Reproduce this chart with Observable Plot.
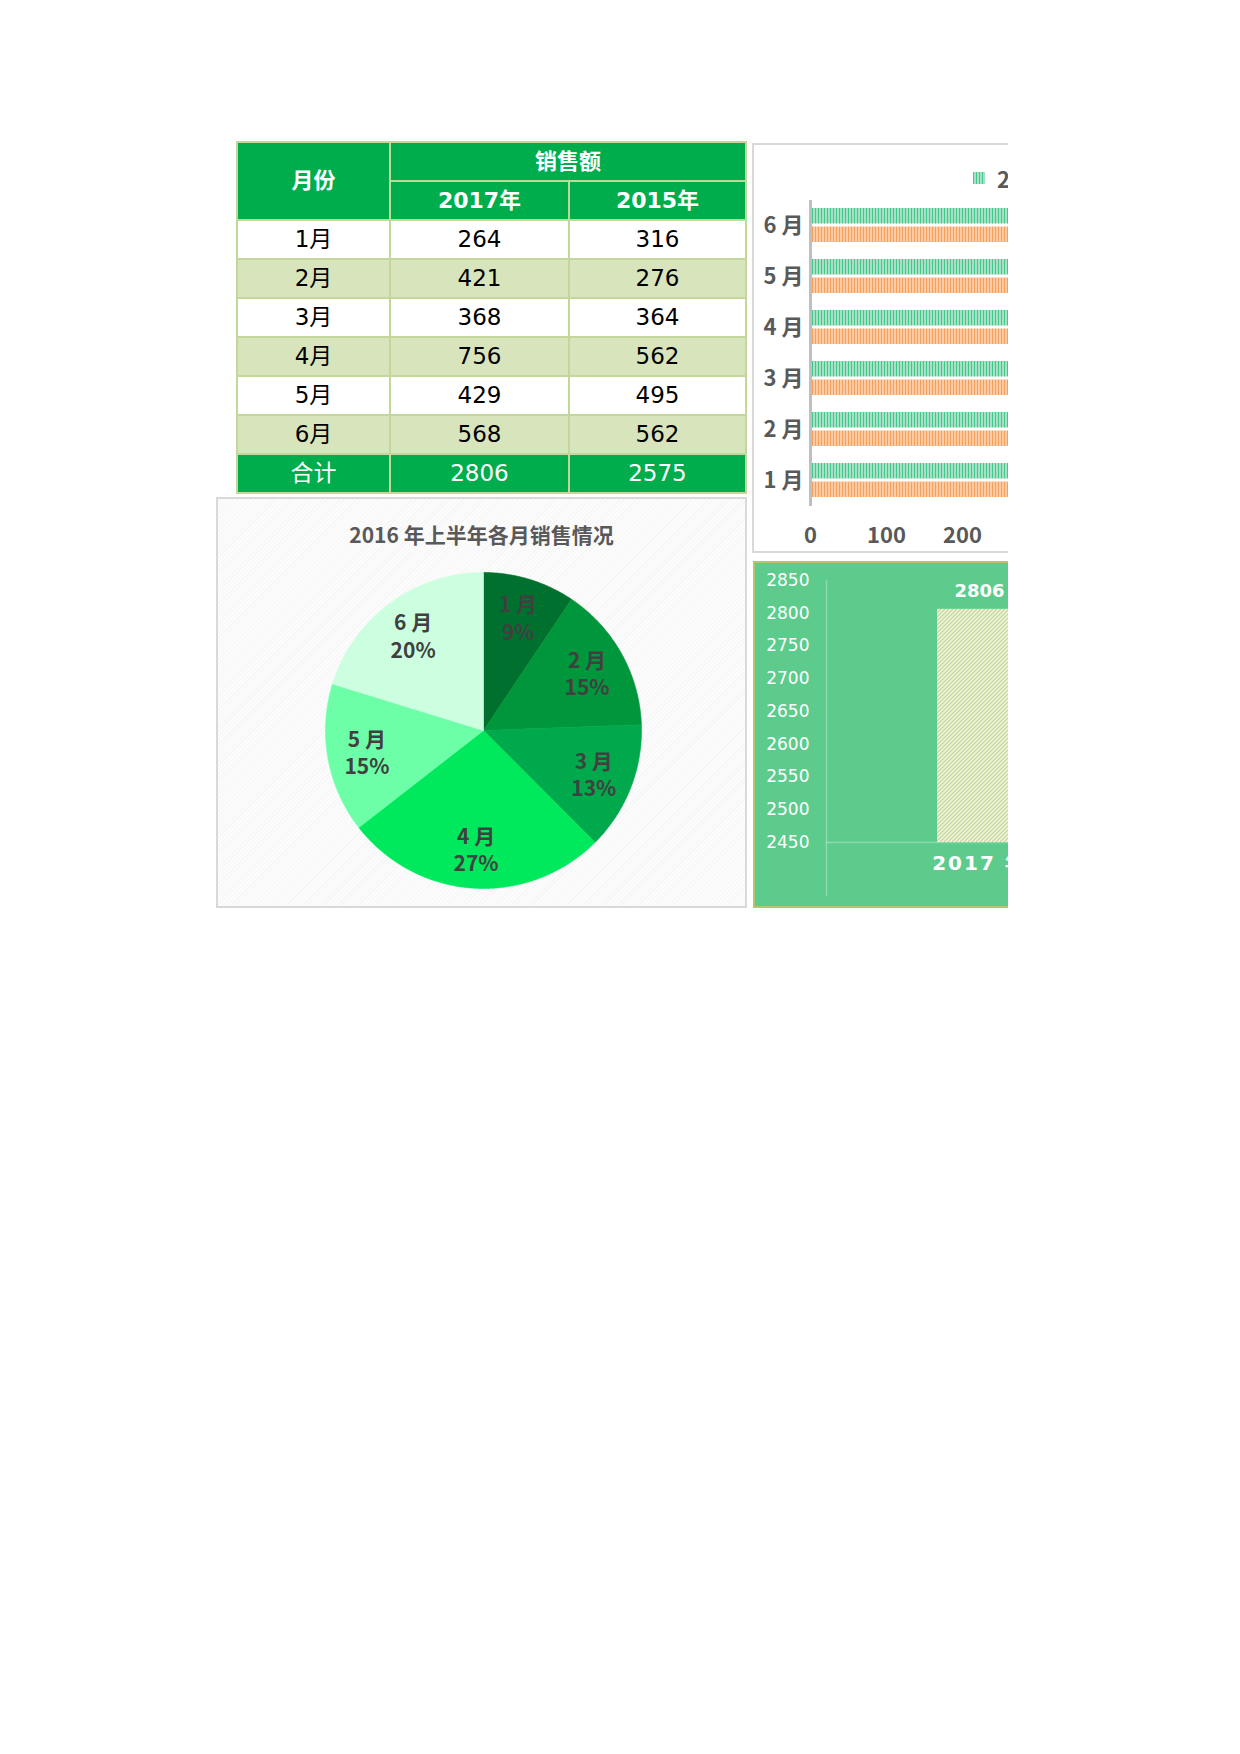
<!DOCTYPE html>
<html><head><meta charset="utf-8">
<script src="https://cdn.jsdelivr.net/npm/d3@7"></script>
<script src="https://cdn.jsdelivr.net/npm/@observablehq/plot@0.6"></script>
<style>
html,body{margin:0;padding:0;background:#fff;}
body{width:1240px;height:1754px;position:relative;overflow:hidden;}
#clip{position:absolute;left:0;top:0;width:1008px;height:1754px;overflow:hidden;}
.abs{position:absolute;}
#tbl{position:absolute;left:236px;top:141px;border-collapse:collapse;font-family:"DejaVu Sans","Noto Sans CJK SC",sans-serif;font-size:23px;color:#000;}
#tbl td,#tbl th{border:2px solid #c4d79b;height:37px;padding:0;text-align:center;vertical-align:middle;line-height:1;}
#tbl th{background:#00ad4d;color:#fff;font-weight:bold;font-size:22px;}
#tbl tr.alt td{background:#d8e4bc;}
#tbl tr.total td{background:#00ad4d;color:#fff;}
.box{position:absolute;box-sizing:border-box;}
#pieBox{left:216px;top:497px;width:531px;height:411px;border:2px solid #d9d9d9;
 background:repeating-linear-gradient(135deg,#fcfcfc 0 2px,#f6f6f6 2px 3px);}
#barBox{left:752px;top:143px;width:535px;height:410px;border:2px solid #d9d9d9;background:#fff;}
#colBox{left:753px;top:561px;width:535px;height:347px;border:2px solid #b3c66b;background:#5ccb8c;}
#pieTitle{position:absolute;left:216px;width:531px;top:520px;text-align:center;font-family:"Noto Sans CJK SC",sans-serif;font-weight:bold;font-size:21px;color:#595959;line-height:28px;}
#legend{position:absolute;left:973px;top:163px;height:30px;display:flex;align-items:center;font-family:"Noto Sans CJK SC",sans-serif;font-weight:bold;font-size:22px;color:#595959;white-space:nowrap;}
.sw{width:12px;height:12px;margin-right:12px;}
.svgwrap svg{max-width:none;display:block;}
</style>
</head><body>
<div id="clip">
  <div id="tblWrap"></div>
  <div class="box" id="pieBox"></div>
  <div id="pieTitle"></div>
  <div class="abs svgwrap" id="pieSvg" style="left:216px;top:497px;width:531px;height:411px;"></div>
  <div class="box" id="barBox"></div>
  <div class="abs svgwrap" id="barSvg" style="left:752px;top:143px;width:700px;height:410px;"></div>
  <div id="legend"></div>
  <div class="box" id="colBox"></div>
  <div class="abs svgwrap" id="colSvg" style="left:753px;top:561px;width:700px;height:347px;"></div>
</div>
<script>
// ---------- data ----------
const months = ["1月","2月","3月","4月","5月","6月"];
const sales2017 = [264, 421, 368, 756, 429, 568];
const sales2015 = [316, 276, 364, 562, 495, 562];
const seriesNames = ["2017年","2015年"];
const headerMonth = "月份";
const headerSales = "销售额";
const totalLabel = "合计";
const pieTitle = "2016 年上半年各月销售情况";
const barTicks = [0,100,200,300,400,500,600,700,800];
const colTicks = [2450,2500,2550,2600,2650,2700,2750,2800,2850];
const pieColors = ["#00702e","#00963b","#00a94b","#00e85c","#6cffa7","#ccffdf"];

const total2017 = d3.sum(sales2017);
const total2015 = d3.sum(sales2015);
const spaced = m => m.replace("月"," 月");

// ---------- table ----------
{
  let h = `<table id="tbl"><colgroup><col style="width:153px"><col style="width:179px"><col style="width:177px"></colgroup>`;
  h += `<tr><th rowspan="2">${headerMonth}</th><th colspan="2">${headerSales}</th></tr>`;
  h += `<tr><th>${seriesNames[0]}</th><th>${seriesNames[1]}</th></tr>`;
  months.forEach((m,i)=>{
    h += `<tr class="${i%2? 'alt':''}"><td>${m}</td><td>${sales2017[i]}</td><td>${sales2015[i]}</td></tr>`;
  });
  h += `<tr class="total"><td>${totalLabel}</td><td>${total2017}</td><td>${total2015}</td></tr></table>`;
  document.getElementById("tblWrap").innerHTML = h;
}

// ---------- pie ----------
document.getElementById("pieTitle").textContent = pieTitle;
{
  const arcs = d3.pie().sort(null).value(d=>d)(sales2017);
  const pts = arcs.flatMap((a,i)=>{
    const out=[{m:months[i],x:0,y:0}];
    const n=Math.max(4,Math.ceil((a.endAngle-a.startAngle)/0.01));
    for(let k=0;k<=n;k++){const t=a.startAngle+(a.endAngle-a.startAngle)*k/n; out.push({m:months[i],x:Math.sin(t),y:Math.cos(t)});}
    out.push({m:months[i],x:0,y:0});
    return out;
  });
  const labels = arcs.map((a,i)=>{
    const t=(a.startAngle+a.endAngle)/2;
    return {x:0.75*Math.sin(t), y:0.75*Math.cos(t), text: spaced(months[i])+"\n"+Math.round(sales2017[i]/total2017*100)+"%"};
  });
  const cx=267, cy=233, R=158;
  const svg = Plot.plot({
    width:531, height:411, margin:0,
    style:{background:"transparent"},
    x:{domain:[-1,1], range:[cx-R,cx+R], axis:null},
    y:{domain:[-1,1], range:[cy+R,cy-R], axis:null},
    color:{domain:months, range:pieColors},
    marks:[
      Plot.line(pts,{x:"x",y:"y",z:"m",fill:"m",stroke:"m",strokeWidth:0.6}),
      Plot.text(labels,{x:"x",y:"y",text:"text",fill:"#404040",fontSize:21,fontWeight:"bold",fontFamily:"Noto Sans CJK SC",lineHeight:1.3})
    ]
  });
  document.getElementById("pieSvg").append(svg);
}

// ---------- horizontal bar chart ----------
{
  const rows = months.map((m,i)=>({month:spaced(m), v2017:sales2017[i], v2015:sales2015[i]}));
  const svg = Plot.plot({
    width:700, height:410, marginLeft:58, marginRight:34, marginTop:57, marginBottom:47,
    style:{background:"transparent"},
    x:{domain:[0,800], label:null},
    y:{domain:months.map(spaced).reverse(), paddingInner:0.33, paddingOuter:0.165, label:null},
    marks:[
      Plot.barX(rows,{x:"v2017",y:"month",fill:"url(#gstripe)",insetBottom:18.5}),
      Plot.barX(rows,{x:"v2015",y:"month",fill:"url(#ostripe)",insetTop:18.5}),
      Plot.ruleX([0],{stroke:"#bfbfbf",strokeWidth:3}),
      Plot.axisX({ticks:barTicks,tickSize:0,tickPadding:21,fontSize:22,fontWeight:"bold",fontFamily:"Noto Sans CJK SC",fill:"#595959",label:null}),
      Plot.axisY({tickSize:0,tickPadding:7,fontSize:22,fontWeight:"bold",fontFamily:"Noto Sans CJK SC",fill:"#595959",label:null})
    ]
  });
  const defs = d3.select(svg).insert("defs",":first-child");
  const g = defs.append("pattern").attr("id","gstripe").attr("patternUnits","userSpaceOnUse").attr("width",3).attr("height",6);
  g.append("rect").attr("width",3).attr("height",6).attr("fill","#a6e0c6");
  g.append("rect").attr("width",1).attr("height",6).attr("fill","#3fca86");
  const o = defs.append("pattern").attr("id","ostripe").attr("patternUnits","userSpaceOnUse").attr("width",3).attr("height",6);
  o.append("rect").attr("width",3).attr("height",6).attr("fill","#fdcba3");
  o.append("rect").attr("width",1).attr("height",6).attr("fill","#f5a05c");
  document.getElementById("barSvg").append(svg);

  const lg = document.getElementById("legend");
  seriesNames.forEach((s,i)=>{
    const sw=document.createElement("div"); sw.className="sw";
    sw.style.background = i===0
      ? "repeating-linear-gradient(90deg,#3fca86 0 1px,#a6e0c6 1px 3px)"
      : "repeating-linear-gradient(90deg,#f5a05c 0 1px,#fdcba3 1px 3px)";
    const t=document.createElement("span"); t.textContent=s; t.style.marginRight="24px";
    lg.append(sw,t);
  });
}

// ---------- column chart ----------
{
  const totals = [{year:seriesNames[0].replace("年"," 年"), total:total2017},{year:seriesNames[1].replace("年"," 年"), total:total2015}];
  const svg = Plot.plot({
    width:700, height:347, marginLeft:73, marginRight:126, marginTop:19, marginBottom:13,
    style:{background:"transparent"},
    x:{domain:totals.map(d=>d.year), paddingInner:0.569, paddingOuter:0.569, axis:null},
    y:{domain:[2450,2850], range:[281,19], label:null},
    marks:[
      Plot.frame({anchor:"left",stroke:"#ffffff",strokeOpacity:0.3,strokeWidth:1.5}),
      Plot.ruleY([2450],{stroke:"#ffffff",strokeOpacity:0.3,strokeWidth:1.5}),
      Plot.barY(totals,{x:"year",y1:()=>2450,y2:"total",fill:"url(#hatch)"}),
      Plot.text(totals,{x:"year",y:"total",text:d=>String(d.total),dy:-18,fill:"#fff",fontSize:18,fontWeight:"bold",fontFamily:"DejaVu Sans"}),
      Plot.text(totals,{x:"year",y:()=>2450,text:"year",dy:21,fill:"#fff",fontSize:20,fontWeight:"bold",fontFamily:"DejaVu Sans, Noto Sans CJK SC"}),
      Plot.axisY({ticks:colTicks,tickFormat:d=>String(d),tickSize:0,tickPadding:17,fontSize:17,fontFamily:"DejaVu Sans",fill:"#fff",label:null})
    ]
  });
  const defs = d3.select(svg).insert("defs",":first-child");
  const p = defs.append("pattern").attr("id","hatch").attr("patternUnits","userSpaceOnUse").attr("width",4).attr("height",4);
  p.append("rect").attr("width",4).attr("height",4).attr("fill","#eef3de");
  p.append("path").attr("d","M-1,1 L1,-1 M0,4 L4,0 M3,5 L5,3").attr("stroke","#c3d48c").attr("stroke-width",1.1);
  d3.select(svg).selectAll("text").filter(function(){return this.textContent.includes("年");}).style("letter-spacing","2px");
  document.getElementById("colSvg").append(svg);
}
</script>
</body></html>
